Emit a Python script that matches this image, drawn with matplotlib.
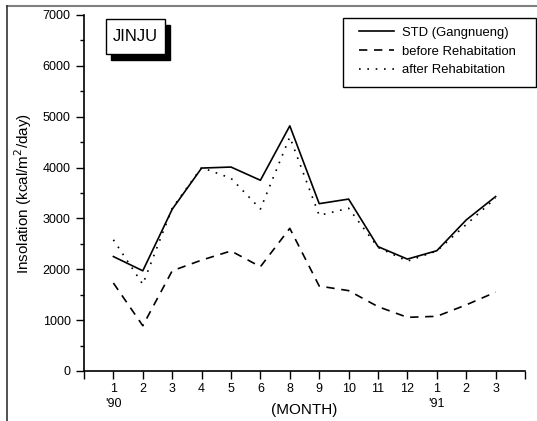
import numpy as np
import matplotlib.pyplot as plt
from matplotlib.patches import Rectangle
from matplotlib.lines import Line2D

plt.rcParams['font.family'] = ['Liberation Sans', 'DejaVu Sans']

months = ['1\n\'90', '2', '3', '4', '5', '6', '8', '9', '10', '11', '12', '1\n\'91', '2', '3']
std = [2250, 1970, 3180, 3990, 4010, 3750, 4820, 3290, 3380, 2445, 2200, 2365, 2970, 3430]
before = [1730, 890, 1970, 2180, 2360, 2050, 2805, 1670, 1580, 1265, 1055, 1075, 1300, 1550]
after = [2580, 1705, 3200, 4000, 3790, 3185, 4600, 3060, 3200, 2430, 2160, 2360, 2880, 3400]

x = np.arange(1, len(months) + 1)

fig = plt.figure(figsize=(5.37, 4.21), dpi=100)
ax = fig.add_axes([0.1564, 0.1188, 0.8213, 0.8456])

ax.plot(x, std, color='black', lw=1.2, label='STD (Gangnueng)')
ax.plot(x, before, color='black', lw=1.2, dashes=(5, 4), label='before Rehabitation')
ax.plot(x, after, color='black', lw=1.2, dashes=(1, 4), label='after Rehabitation')

ax.set_xlim(0, 15)
ax.set_ylim(0, 7000)
ax.set_xticks(np.arange(0, 16))
ax.set_xticklabels([''] + months + [''], fontsize=9, va='top', linespacing=1.25)
ax.set_yticks(np.arange(0, 7001, 1000))
ax.set_yticks(np.arange(500, 7000, 1000), minor=True)
ax.tick_params(axis='both', which='major', direction='out', length=6, width=1, labelsize=9)
ax.tick_params(axis='x', which='major', pad=3)
ax.tick_params(axis='y', which='minor', direction='out', length=3, width=1)
for s in ['top', 'right']:
    ax.spines[s].set_visible(False)
for s in ['left', 'bottom']:
    ax.spines[s].set_linewidth(1.2)

ax.set_ylabel('Insolation (kcal/m$^2$/day)', fontsize=11, labelpad=6)
fig.text(304 / 537, 1 - 410 / 421, '(MONTH)', fontsize=11, ha='center', va='center')

# legend with its own frame
ax.add_patch(Rectangle((343 / 537, 1 - 87 / 421), 193 / 537, 69 / 421,
                       transform=fig.transFigure, facecolor='white', edgecolor='black',
                       lw=1, clip_on=False, zorder=4))
leg = ax.legend(loc='upper left', bbox_to_anchor=(355 / 537, 1 - 23 / 421),
                bbox_transform=fig.transFigure, fontsize=9.4, frameon=False,
                handlelength=2.7, handletextpad=0.6, borderpad=0.3, borderaxespad=0,
                labelspacing=0.5)
leg.set_zorder(5)

# JINJU label box with shadow
fig.patches.append(Rectangle((111 / 537, 1 - 60 / 421), 59 / 537, 35 / 421,
                             transform=fig.transFigure, facecolor='black', edgecolor='black'))
fig.patches.append(Rectangle((106 / 537, 1 - 54 / 421), 59 / 537, 35 / 421,
                             transform=fig.transFigure, facecolor='white', edgecolor='black', lw=1))
fig.text(135.5 / 537, 1 - 36.5 / 421, 'JINJU', fontsize=12, ha='center', va='center')

# page frame lines
fig.lines.append(Line2D([7.5 / 537, 1], [1 - 6 / 421, 1 - 6 / 421], transform=fig.transFigure,
                        color='gray', lw=1.5))
fig.lines.append(Line2D([7.5 / 537, 7.5 / 537], [0, 1 - 6 / 421], transform=fig.transFigure,
                        color='#333333', lw=1.2))

fig.savefig('out.png', dpi=100)
